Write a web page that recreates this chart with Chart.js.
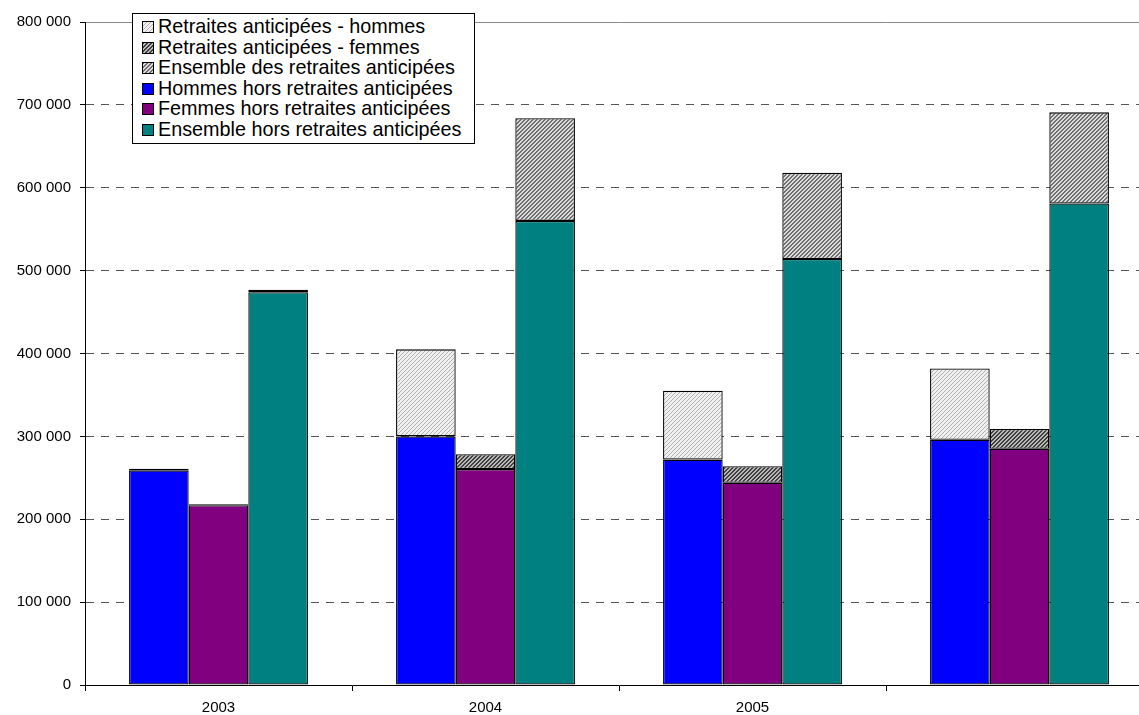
<!DOCTYPE html>
<html lang="fr">
<head>
    <meta charset="UTF-8">
    <title>Retraites anticipées</title>
    <script src="https://cdn.jsdelivr.net/npm/chart.js"></script>
    <style>
        html, body {
            margin: 0;
            padding: 0;
            overflow: hidden;
            background: #fff;
        }
        .wrap {
            position: relative;
            width: 1153px;
            height: 715px;
        }
        #legend {
            position: absolute;
            left: 132px;
            top: 13px;
            width: 341px;
            height: 127px;
            border: 1px solid #000;
            background: #fff;
            font-family: "Liberation Sans", Arial, sans-serif;
            font-size: 19.8px;
            color: #000;
            padding-top: 2px;
        }
        #legend div {
            height: 20.6px;
            line-height: 20.6px;
            white-space: nowrap;
        }
        #legend span.sw {
            display: inline-block;
            width: 10px;
            height: 10px;
            border: 1px solid #000;
            margin: 0 4px 0 9px;
            vertical-align: 0px;
        }
    </style>
</head>
<body>
    <div class="wrap">
        <canvas id="chart" width="1153" height="715"></canvas>
        <div id="legend"></div>
    </div>

    <script>
        // values
        const categories = ['2003', '2004', '2005', ''];
        const hommesHors = [259000, 300000, 272000, 296000];
        const hommesAnticipees = [2000, 105000, 83000, 86000];
        const femmesHors = [217000, 260500, 244000, 285000];
        const femmesAnticipees = [1000, 18000, 20000, 24000];
        const ensembleHors = [474000, 560000, 514000, 581000];
        const ensembleAnticipees = [3000, 124000, 104000, 110000];
        const yTicks = [0, 100000, 200000, 300000, 400000, 500000, 600000, 700000, 800000];

        // little hatch tiles, used for the bars and the legend swatches
        function hatchTile(bg, fg, w) {
            const c = document.createElement('canvas');
            c.width = 4; c.height = 4;
            const g = c.getContext('2d');
            g.fillStyle = bg;
            g.fillRect(0, 0, 4, 4);
            g.fillStyle = fg;
            for (let i = 0; i < 4; i++) {
                g.fillRect(i, 3 - i, 1, 1);
                if (w > 1) g.fillRect((i + 1) % 4, 3 - i, 1, 1);
            }
            return c;
        }
        const tileH = hatchTile('#f0f0f0', '#b0b0b0', 1);
        const tileF = hatchTile('#b8b8b8', '#404040', 2);
        const tileE = hatchTile('#dcdcdc', '#707070', 2);

        const ctx = document.getElementById('chart').getContext('2d');
        const patH = ctx.createPattern(tileH, 'repeat');
        const patF = ctx.createPattern(tileF, 'repeat');
        const patE = ctx.createPattern(tileE, 'repeat');

        function fmt(v) {
            return String(v).replace(/\B(?=(\d{3})+(?!\d))/g, ' ');
        }

        const datasets = [
            { label: 'Hommes hors retraites anticipées', data: hommesHors, stack: 'h', backgroundColor: '#0000ff' },
            { label: 'Retraites anticipées - hommes', data: hommesAnticipees, stack: 'h', backgroundColor: patH },
            { label: 'Femmes hors retraites anticipées', data: femmesHors, stack: 'f', backgroundColor: '#800080' },
            { label: 'Retraites anticipées - femmes', data: femmesAnticipees, stack: 'f', backgroundColor: patF },
            { label: 'Ensemble hors retraites anticipées', data: ensembleHors, stack: 'e', backgroundColor: '#008080' },
            { label: 'Ensemble des retraites anticipées', data: ensembleAnticipees, stack: 'e', backgroundColor: patE }
        ];
        datasets.forEach(function(d) {
            d.borderColor = '#000';
            d.borderWidth = 1.3;
            d.borderSkipped = false;
            d.categoryPercentage = 0.67;
            d.barPercentage = 1.0;
        });

        new Chart(ctx, {
            type: 'bar',
            data: { labels: categories, datasets: datasets },
            options: {
                responsive: false,
                animation: false,
                layout: { padding: { top: 22, right: 0, left: 0, bottom: 0 } },
                plugins: {
                    legend: { display: false },
                    tooltip: { enabled: false }
                },
                scales: {
                    x: {
                        stacked: true,
                        grid: {
                            offset: true,
                            drawOnChartArea: false,
                            drawTicks: true,
                            tickLength: 6,
                            tickColor: '#000'
                        },
                        border: { color: '#000', width: 1 },
                        ticks: {
                            color: '#000',
                            padding: 8,
                            maxRotation: 0,
                            font: { family: '"Liberation Sans Narrow", "Liberation Sans", Arial', size: 15 }
                        },
                        afterFit: function(scale) { scale.height = 30; }
                    },
                    y: {
                        stacked: true,
                        min: 0,
                        max: 800000,
                        afterBuildTicks: function(scale) {
                            scale.ticks = yTicks.map(function(v) { return { value: v }; });
                        },
                        grid: {
                            color: function(c) { return c.tick && c.tick.value === 800000 ? '#8a8a8a' : '#555'; },
                            lineWidth: 1,
                            tickLength: 5,
                            tickColor: '#000'
                        },
                        border: {
                            color: '#000',
                            width: 1,
                            dash: function(c) { return c.tick && c.tick.value === 800000 ? [] : [8, 7]; }
                        },
                        ticks: {
                            color: '#000',
                            padding: 9,
                            font: { family: '"Liberation Sans", Arial', size: 15 },
                            callback: function(v) { return fmt(v); }
                        },
                        afterFit: function(scale) { scale.width = 85; }
                    }
                }
            }
        });

        // legend box drawn as html, in the order of the original
        const legendItems = [
            ['Retraites anticipées - hommes', tileH],
            ['Retraites anticipées - femmes', tileF],
            ['Ensemble des retraites anticipées', tileE],
            ['Hommes hors retraites anticipées', '#0000ff'],
            ['Femmes hors retraites anticipées', '#800080'],
            ['Ensemble hors retraites anticipées', '#008080']
        ];
        const legend = document.getElementById('legend');
        legendItems.forEach(function(item) {
            const row = document.createElement('div');
            const sw = document.createElement('span');
            sw.className = 'sw';
            if (typeof item[1] === 'string') {
                sw.style.background = item[1];
            } else {
                sw.style.backgroundImage = 'url(' + item[1].toDataURL() + ')';
            }
            row.appendChild(sw);
            row.appendChild(document.createTextNode(item[0]));
            legend.appendChild(row);
        });
    </script>
</body>
</html>
